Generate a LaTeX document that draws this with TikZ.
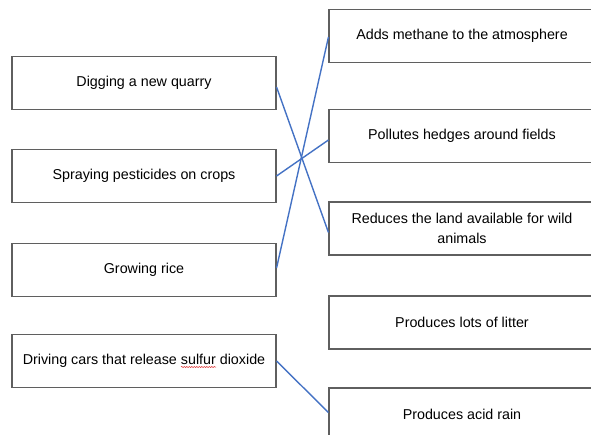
\documentclass[tikz,border=0pt]{standalone}
\usepackage{fontspec}
\setmainfont{Liberation Sans}
\usepackage{tikz}
\usetikzlibrary{decorations.pathmorphing}
\definecolor{boxgray}{RGB}{95,95,95}
\definecolor{linkblue}{RGB}{68,114,196}
\definecolor{spellred}{RGB}{220,40,40}

\begin{document}
\begin{tikzpicture}[x=1pt, y=-1pt,
        box/.style={draw=boxgray, line width=1.1pt, minimum width=264pt, minimum height=53pt, align=center, font=\fontsize{14.3}{20}\selectfont},
        link/.style={draw=linkblue, line width=1.4pt}]
    \useasboundingbox (0,0) rectangle (591,435);
    \clip (0,0) rectangle (591,435);
    % activities on the left
    \node [box] (quarry) at (144,83) {Digging a new quarry};
    \node [box] (pesticides) at (144,176) {Spraying pesticides on crops};
    \node [box] (rice) at (144,270) {Growing rice};
    \node [box] (cars) at (144,361) {Driving cars that release sulfur dioxide};
    % effects on the right
    \node [box, minimum width=266pt] (methane) at (462,36) {Adds methane to the atmosphere};
    \node [box, minimum width=266pt] (hedges) at (462,136) {Pollutes hedges around fields};
    \node [box, minimum width=266pt] (land) at (462,228.5) {Reduces the land available for wild\\animals};
    \node [box, minimum width=266pt] (litter) at (462,322.5) {Produces lots of litter};
    \node [box, minimum width=266pt] (acidrain) at (462,414.5) {Produces acid rain};

    \draw [link] ([yshift=-4pt]quarry.east) -- ([yshift=-4pt]land.west);
    \draw [link] (pesticides.east) -- ([yshift=-4pt]hedges.west);
    \draw [link] ([yshift=2pt]rice.east) -- ([yshift=-1pt]methane.west);
    \draw [link] (cars.east) -- ([yshift=2pt]acidrain.west);
    % spelling mark under sulfur
    \draw [spellred, line width=0.5pt, decorate, decoration={snake, amplitude=0.6pt, segment length=2.5pt}] ([xshift=37pt, yshift=-6pt]cars.center) -- ([xshift=72pt, yshift=-6pt]cars.center);
\end{tikzpicture}
\end{document}
